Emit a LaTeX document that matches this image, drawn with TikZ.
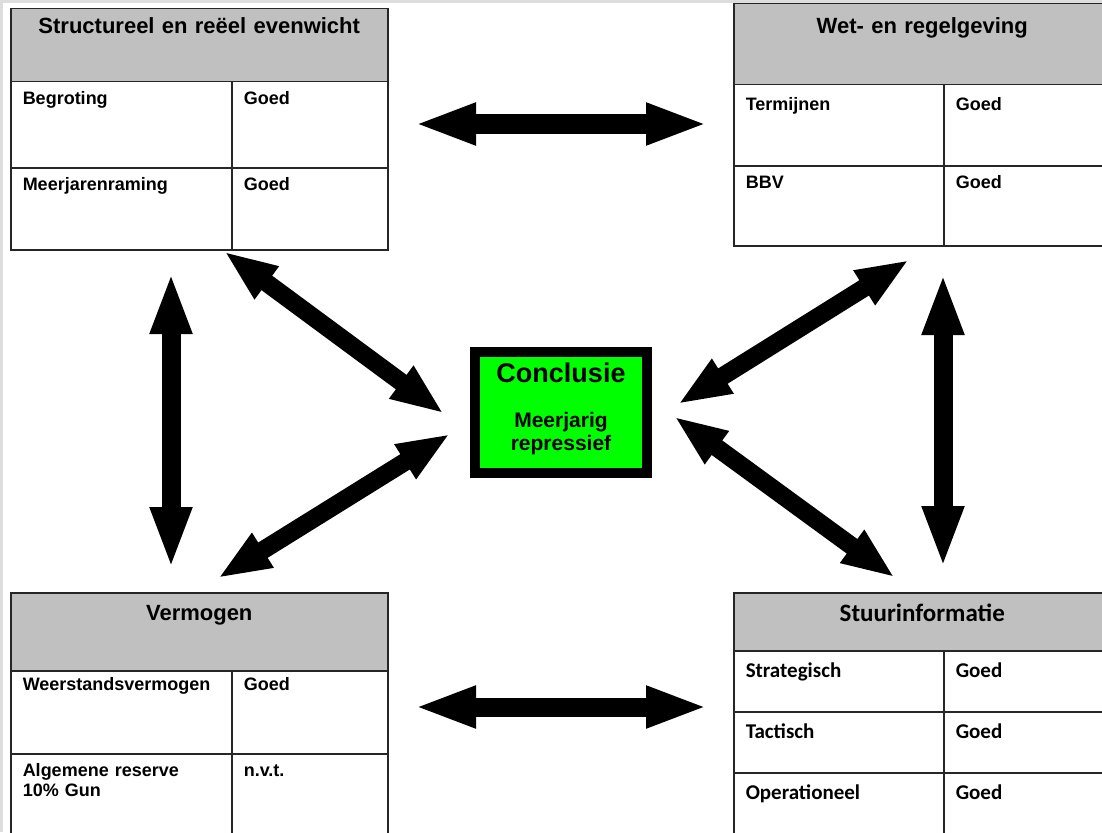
\documentclass[tikz,border=0pt]{standalone}
\usepackage{fontspec}
\usetikzlibrary{arrows.meta}
\newfontfamily\arial{Liberation Sans}
\newfontfamily\calibri{Carlito}
\definecolor{kopgrijs}{HTML}{C0C0C0}
\definecolor{randgrijs}{HTML}{DDDDDD}
\definecolor{fel}{HTML}{00FF00}

\begin{document}
\begin{tikzpicture}[x=1pt, y=-1pt,
  kop/.style 2 args={draw=black!85, line width=1.5pt, fill=kopgrijs, anchor=north west, align=center, inner xsep=0pt, inner ysep=#1, text width=377pt, text height=16pt, text depth=#2, font=\arial\bfseries\fontsize{22}{26}\selectfont},
  cel/.style={draw=black!85, line width=1.5pt, anchor=north west, align=left, inner xsep=12pt, inner ysep=11pt, text height=12pt, text depth=#1, font=\arial\bfseries\fontsize{18}{20}\selectfont},
  celc/.style={cel=#1, inner ysep=14pt, text height=13pt, font=\calibri\bfseries\fontsize{21}{24}\selectfont},
  concl/.style={draw=black, line width=10pt, fill=fel, minimum width=172pt, minimum height=121pt, text width=160pt, align=center, font=\arial\bfseries\fontsize{21}{23}\selectfont},
  pijl/.style={line width=19pt, shorten <=-6pt, shorten >=-6pt, {Triangle[width=38pt,length=62pt]}-{Triangle[width=38pt,length=62pt]}},
  schuin/.style={line width=18pt, shorten <=-6pt, shorten >=-6pt, {Triangle[width=37pt,length=53pt]}-{Triangle[width=37pt,length=53pt]}}]
  \useasboundingbox (0,0) rectangle (1102,832);
  \fill[randgrijs] (0,0) rectangle (3,832);
  \fill[randgrijs] (0,0) rectangle (1102,3);

  % structureel en reeel evenwicht
  \node[kop={9pt}{39pt}] (sre) at (10,8) {Structureel en reëel evenwicht};
  \node[cel=52pt, text width=197pt] (sre1a) at (10,81) {Begroting};
  \node[cel=52pt, text width=132pt] (sre1b) at (231,81) {Goed};
  \node[cel=48pt, text width=197pt] (sre2a) at (10,167) {Meerjarenraming};
  \node[cel=48pt, text width=132pt] (sre2b) at (231,167) {Goed};

  % wet- en regelgeving
  \node[kop={14pt}{37pt}] (wr) at (733,3) {Wet- en regelgeving};
  \node[cel=42pt, text width=186pt, inner ysep=13pt, text height=13pt] (wr1a) at (733,84) {Termijnen};
  \node[cel=42pt, text width=143pt, inner ysep=13pt, text height=13pt] (wr1b) at (943,84) {Goed};
  \node[cel=46pt, text width=186pt] (wr2a) at (733,165) {BBV};
  \node[cel=46pt, text width=143pt] (wr2b) at (943,165) {Goed};

  % vermogen
  \node[kop={12pt}{38pt}] (vg) at (10,592) {Vermogen};
  \node[cel=54pt, text width=197pt, inner ysep=9pt, text height=11pt] (vg1a) at (10,670) {Weerstandsvermogen};
  \node[cel=54pt, text width=132pt, inner ysep=9pt, text height=11pt] (vg1b) at (231,670) {Goed};
  \node[cel=58pt, text width=197pt] (vg2a) at (10,753) {\begin{tabular}[t]{@{}l@{}}Algemene reserve\\10\% Gun\end{tabular}};
  \node[cel=58pt, text width=132pt] (vg2b) at (231,753) {n.v.t.};

  % stuurinformatie
  \node[kop={13pt}{16pt}, font=\calibri\bfseries\fontsize{25}{30}\selectfont] (si) at (733,592) {Stuurinformatie};
  \node[celc=20pt, text width=186pt] (si1a) at (733,650) {Strategisch};
  \node[celc=20pt, text width=143pt] (si1b) at (943,650) {Goed};
  \node[celc=20pt, text width=186pt] (si2a) at (733,711) {Tactisch};
  \node[celc=20pt, text width=143pt] (si2b) at (943,711) {Goed};
  \node[celc=32pt, text width=186pt] (si3a) at (733,772) {Operationeel};
  \node[celc=32pt, text width=143pt] (si3b) at (943,772) {Goed};

  % conclusie
  \node[concl] (conc) at (561,412.5) {{\fontsize{27}{27}\selectfont Conclusie}\\[22pt]Meerjarig\\repressief\rule[-12pt]{0pt}{0pt}};

  % pijlen
  \coordinate (boven-l) at (420,124);
  \coordinate (boven-r) at (702,124);
  \coordinate (onder-l) at (420,707);
  \coordinate (onder-r) at (702,707);
  \coordinate (links-b) at (171,278);
  \coordinate (links-o) at (171,563);
  \coordinate (rechts-b) at (943,279);
  \coordinate (rechts-o) at (943,562);
  \coordinate (lb-a) at (229,255);
  \coordinate (lb-b) at (439,410);
  \coordinate (lo-a) at (223,575);
  \coordinate (lo-b) at (445,437);
  \coordinate (rb-a) at (904,263);
  \coordinate (rb-b) at (683,401);
  \coordinate (ro-a) at (890,574);
  \coordinate (ro-b) at (679,420);

  \foreach \a/\b in {boven-l/boven-r, onder-l/onder-r, links-b/links-o, rechts-b/rechts-o}{\draw[pijl] (\a) -- (\b);}
  \foreach \a/\b in {lb-a/lb-b, lo-a/lo-b, rb-a/rb-b, ro-a/ro-b}{\draw[schuin] (\a) -- (\b);}
\end{tikzpicture}
\end{document}
